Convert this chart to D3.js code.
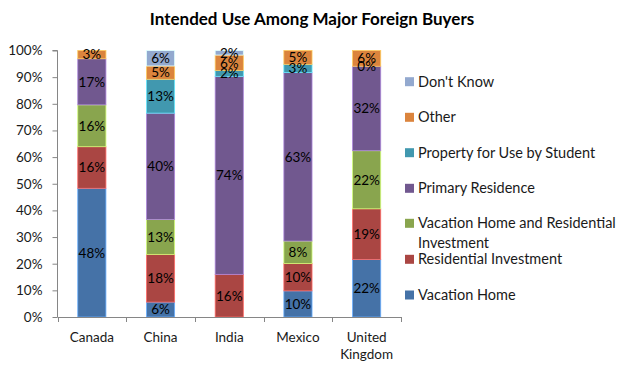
<!DOCTYPE html>
<html>
<head>
<meta charset="utf-8">
<script src="https://cdn.jsdelivr.net/npm/d3@7"></script>
<style>
  html, body { margin: 0; padding: 0; background: #fff; }
  svg { display: block; font-family: Lato, "Open Sans", sans-serif; }
</style>
</head>
<body>
<svg id="chart" width="623" height="369"></svg>
<script>
const title = "Intended Use Among Major Foreign Buyers";
const categories = ["Canada", "China", "India", "Mexico", "United Kingdom"];
const seriesNames = ["Vacation Home", "Residential Investment", "Vacation Home and Residential Investment",
  "Primary Residence", "Property for Use by Student", "Other", "Don't Know"];
const seriesColors = ["#4572A7", "#AA4643", "#89A54E", "#71588F", "#4198AF", "#DB843D", "#93A9CF"];
// values per category (fractions); null = no data
const vacationHome        = [0.483, 0.056, null,  0.098, 0.216];
const residentialInvest   = [0.156, 0.179, 0.160, 0.103, 0.190];
const vacationResidential = [0.157, 0.131, null,  0.084, 0.218];
const primaryResidence    = [0.173, 0.399, 0.743, 0.632, 0.317];
const propertyStudent     = [null,  0.127, 0.022, 0.031, 0.000];
const other               = [0.031, 0.050, 0.058, 0.052, 0.059];
const dontKnow            = [null,  0.058, 0.017, null,  null];
const yTicks = [0, 0.1, 0.2, 0.3, 0.4, 0.5, 0.6, 0.7, 0.8, 0.9, 1.0];

const seriesValues = [vacationHome, residentialInvest, vacationResidential, primaryResidence, propertyStudent, other, dontKnow];

const svg = d3.select("#chart");
const margin = {left: 57.5, right: 401, top: 50.5, bottom: 317};

const x = d3.scaleBand().domain(categories).range([margin.left, margin.right]).paddingInner(0.59).paddingOuter(0.295);
const y = d3.scaleLinear().domain([0, 1]).range([margin.bottom, margin.top]);

// title
svg.append("text").attr("x", 312).attr("y", 25).attr("text-anchor", "middle")
  .attr("font-size", 17).attr("font-weight", "bold").attr("fill", "#000").text(title);

// stacks
const rows = categories.map((c, i) => {
  const o = {cat: c};
  seriesNames.forEach((s, j) => o[s] = seriesValues[j][i] == null ? 0 : seriesValues[j][i]);
  return o;
});
const stack = d3.stack().keys(seriesNames)(rows);

const gBars = svg.append("g");
stack.forEach((layer, j) => {
  layer.forEach((d, i) => {
    const v = seriesValues[j][i];
    if (v == null) return;
    const h = y(d[0]) - y(d[1]);
    if (h > 0) {
      gBars.append("rect")
        .attr("x", x(categories[i]))
        .attr("y", y(d[1]))
        .attr("width", x.bandwidth())
        .attr("height", h)
        .attr("fill", seriesColors[j])
        .attr("stroke", d3.color(seriesColors[j]).brighter(1.2))
        .attr("stroke-width", 0.8);
    }
  });
});
// labels
const gLabels = svg.append("g");
stack.forEach((layer, j) => {
  layer.forEach((d, i) => {
    const v = seriesValues[j][i];
    if (v == null) return;
    gLabels.append("text")
      .attr("x", x(categories[i]) + x.bandwidth() / 2)
      .attr("y", (y(d[0]) + y(d[1])) / 2)
      .attr("dy", "0.36em")
      .attr("text-anchor", "middle")
      .attr("font-size", 13.5)
      .attr("fill", "#000")
      .text(d3.format(".0%")(v));
  });
});

// y axis
const yAxis = d3.axisLeft(y).tickValues(yTicks).tickFormat(d3.format(".0%")).tickSize(5).tickPadding(10);
const gy = svg.append("g").attr("transform", `translate(${margin.left},0)`).call(yAxis);
gy.select(".domain").attr("stroke", "#868686").attr("d", `M-5,${margin.top}H0V${margin.bottom}`);
gy.selectAll(".tick line").attr("stroke", "#868686");
gy.selectAll(".tick text").attr("font-size", 13.5).attr("fill", "#1a1a1a").attr("font-family", "Lato, sans-serif");

// x axis
const gx = svg.append("g").attr("transform", `translate(0,${margin.bottom})`);
gx.append("line").attr("x1", margin.left).attr("x2", margin.right).attr("y1", 0.5).attr("y2", 0.5).attr("stroke", "#868686");
const bounds = d3.range(categories.length + 1).map(i => margin.left + i * x.step());
gx.selectAll("line.tk").data(bounds).join("line").attr("class", "tk")
  .attr("x1", d => Math.round(d) + 0.5).attr("x2", d => Math.round(d) + 0.5).attr("y1", 0).attr("y2", 5).attr("stroke", "#868686");
categories.forEach(c => {
  const words = c === "United Kingdom" ? ["United", "Kingdom"] : [c];
  const t = gx.append("text").attr("x", x(c) + x.bandwidth() / 2).attr("y", 25)
    .attr("text-anchor", "middle").attr("font-size", 13.5).attr("fill", "#1a1a1a");
  words.forEach((w, k) => t.append("tspan").attr("x", x(c) + x.bandwidth() / 2).attr("dy", k ? 17 : 0).text(w));
});

// legend (reverse order)
const legendItems = [
  {j: 6, y: 81.7, lines: ["Don't Know"]},
  {j: 5, y: 117.3, lines: ["Other"]},
  {j: 4, y: 152.7, lines: ["Property for Use by Student"]},
  {j: 3, y: 188.3, lines: ["Primary Residence"]},
  {j: 2, y: 223.3, lines: ["Vacation Home and Residential", "Investment"]},
  {j: 1, y: 259.3, lines: ["Residential Investment"]},
  {j: 0, y: 295, lines: ["Vacation Home"]}
];
const gl = svg.append("g");
legendItems.forEach(it => {
  gl.append("rect").attr("x", 405).attr("y", it.y - 4.5).attr("width", 9).attr("height", 9).attr("fill", seriesColors[it.j]);
  const t = gl.append("text").attr("x", 418).attr("y", it.y + 5).attr("font-size", 14.5).attr("fill", "#1a1a1a");
  it.lines.forEach((l, k) => t.append("tspan").attr("x", 418).attr("dy", k ? 19.4 : 0).text(l));
});
</script>
</body>
</html>
